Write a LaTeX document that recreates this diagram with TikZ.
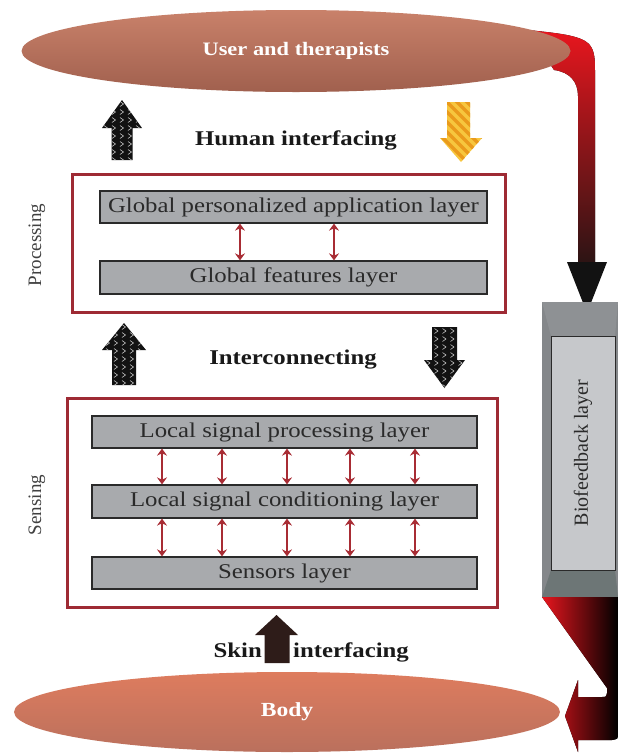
\documentclass[tikz,border=0pt]{standalone}
\usepackage{fontspec}
\setmainfont{Liberation Serif}[FakeStretch=1.18]
\newfontfamily\rotfont{Liberation Serif}
\usetikzlibrary{arrows.meta,shapes.geometric}

\definecolor{boxred}{HTML}{9E2A34}
\definecolor{layergray}{HTML}{A8AAAD}
\definecolor{layerborder}{HTML}{2A2A2A}
\definecolor{layertext}{HTML}{2A2A2A}
\definecolor{arrowred}{HTML}{A82C34}
\definecolor{ellTop}{HTML}{C9816A}
\definecolor{ellBot}{HTML}{A0604E}
\definecolor{bodyTop}{HTML}{DE7C5E}
\definecolor{bodyBot}{HTML}{BA705D}
\definecolor{bandTop}{HTML}{E8161E}
\definecolor{bandMid}{HTML}{B42024}
\definecolor{bandBot}{HTML}{2C1414}
\definecolor{arrowblack}{HTML}{121212}
\definecolor{skinbrown}{HTML}{2E1C19}
\definecolor{ylw}{HTML}{F7C63E}
\definecolor{ylwstripe}{HTML}{EA9A1C}
\definecolor{bfOuter}{HTML}{84878A}
\definecolor{bfTop}{HTML}{8E9194}
\definecolor{bfBot}{HTML}{6D7676}
\definecolor{bfInner}{HTML}{C6C8CB}

\tikzset{
  layer/.style={draw=layerborder, line width=1.2, fill=layergray, text=layertext,
    font=\fontsize{21}{25}\selectfont, inner sep=0pt},
  redbox/.style={draw=boxred, line width=3, inner sep=0pt},
  dbl/.style={draw=arrowred, line width=2.3,
    {Stealth[length=7pt,width=10pt]}-{Stealth[length=7pt,width=10pt]}},
  bigell/.style={ellipse, inner sep=0pt, text=white,
    font=\bfseries\fontsize{19}{22}\selectfont},
  lbl/.style={font=\bfseries\fontsize{21}{25}\selectfont, text=black!90, inner sep=0pt},
  sidelbl/.style={rotate=90, font=\rotfont\fontsize{19}{22}\selectfont, text=black!75},
}

% chevron-patterned block arrow: cx, tip y, head base y, end y, head half width, shaft half width
\newcommand{\blkArrow}[6]{%
  \begin{scope}
    \clip (#1,#2) -- ({#1+#5},#3) -- ({#1+#6},#3) -- ({#1+#6},#4) -- ({#1-#6},#4)
      -- ({#1-#6},#3) -- ({#1-#5},#3) -- cycle;
    \pgfmathsetmacro\arrMin{min(#2,#4)}
    \fill[arrowblack] ({#1-#5-2},{\arrMin-2}) rectangle ({#1+#5+2},{\arrMin+70});
    \foreach \k in {0,...,8}{
      \foreach \j in {-2,...,2}{
        \draw[white!80!black, line width=0.55]
          ({#1+\j*8-2},{\arrMin+4+\k*8-2.5}) -- ({#1+\j*8+1.5},{\arrMin+4+\k*8})
          -- ({#1+\j*8-2},{\arrMin+4+\k*8+2.5});
      }
    }
  \end{scope}}

\begin{document}
\begin{tikzpicture}[x=1pt,y=-1pt]
\useasboundingbox (0,0) rectangle (618,753);
\fill[white] (0,0) rectangle (618,753);

% ---- red feedback band from user ellipse to biofeedback layer
\fill[top color=bandTop, middle color=bandMid, bottom color=bandBot]
  (528,30) .. controls (556,33) and (580,35) .. (589,44)
  .. controls (595,51) and (595,60) .. (595,72) -- (595,263) -- (578,263)
  -- (578,96) .. controls (578,82) and (570,72) .. (554,70) -- cycle;
\fill[arrowblack] (567,262) -- (607,262) -- (587,313) -- cycle;

% ---- top ellipse
\node (user) [bigell, minimum width=549, minimum height=82,
  top color=ellTop, bottom color=ellBot] at (296,51) {User and therapists};

% ---- biofeedback layer
\fill[bfOuter] (542,302) rectangle (618,597);
\fill[bfTop] (542,302) -- (618,302) -- (615,336) -- (551,336) -- cycle;
\fill[bfBot] (542,597) -- (618,597) -- (615,570) -- (551,570) -- cycle;
\node (bio) [draw=layerborder, line width=0.9, fill=bfInner, inner sep=0pt,
  minimum width=64, minimum height=234] at (583,453) {};
\node (biotxt) [sidelbl, text=layertext, font=\rotfont\fontsize{20}{23}\selectfont]
  at (583,453) {Biofeedback layer};

% ---- bottom red/black return arrow
\fill[left color=bandTop, right color=black]
  (542,597) -- (618,597) -- (618,733) .. controls (618,739) .. (612,740)
  -- (578,740) -- (578,752) -- (565,716) -- (578,680) -- (578,697)
  -- (602,697) .. controls (606,697) .. (607,693) -- (607,688) -- cycle;

% ---- human interfacing
\blkArrow{122}{100}{128}{160}{20}{10.5}
\begin{scope}
  \clip (458.5,102) -- (470,102) -- (470,138) -- (482,138) -- (461,162)
    -- (440,138) -- (447,138) -- (447,102) -- cycle;
  \fill[ylw] (436,98) rectangle (486,166);
  \foreach \k in {-8,...,4}
    \draw[ylwstripe, line width=3.2] ({430+\k*10},95) -- ({500+\k*10},165);
\end{scope}
\node (human) [lbl] at (296,140) {Human interfacing};

% ---- processing block
\node (proc) [redbox, minimum width=433, minimum height=138] at (288.5,243) {};
\node (proclbl) [sidelbl] at (37,245) {Processing};
\node (gpa) [layer, minimum width=387, minimum height=32] at (293.5,207)
  {Global personalized application layer};
\node (gfl) [layer, minimum width=387, minimum height=33] at (293.5,277.5)
  {Global features layer};
\foreach \s in {-53.5,40.5}
  \draw[dbl] ([xshift=\s]gpa.south) -- ([xshift=\s]gfl.north);

% ---- interconnecting
\blkArrow{124}{323}{350}{385}{22}{12}
\blkArrow{444.5}{388}{360}{327}{20.5}{12.5}
\node (inter) [lbl] at (293,360) {Interconnecting};

% ---- sensing block
\node (sens) [redbox, minimum width=430, minimum height=209] at (282,502.5) {};
\node (senslbl) [sidelbl] at (37,505) {Sensing};
\node (lsp) [layer, minimum width=385, minimum height=32] at (284.5,432)
  {Local signal processing layer};
\node (lsc) [layer, minimum width=385, minimum height=33] at (284.5,501.5)
  {Local signal conditioning layer};
\node (sen) [layer, minimum width=385, minimum height=32] at (284.5,573)
  {Sensors layer};
\foreach \s in {-122.5,-62.5,2.5,65.5,130.5}{
  \draw[dbl] ([xshift=\s]lsp.south) -- ([xshift=\s]lsc.north);
  \draw[dbl] ([xshift=\s]lsc.south) -- ([xshift=\s]sen.north);
}

% ---- skin interfacing
\fill[skinbrown] (276.5,615) -- (298,635) -- (289.5,635) -- (289.5,663)
  -- (264.5,663) -- (264.5,635) -- (255,635) -- cycle;
\node (skin) [lbl, anchor=base east] at (262,657) {Skin};
\node (iface) [lbl, anchor=base west] at (293,657) {interfacing};

% ---- body ellipse
\node (body) [bigell, minimum width=546, minimum height=80,
  top color=bodyTop, bottom color=bodyBot,
  font=\bfseries\fontsize{20}{23}\selectfont] at (287,712) {Body};
\end{tikzpicture}
\end{document}
